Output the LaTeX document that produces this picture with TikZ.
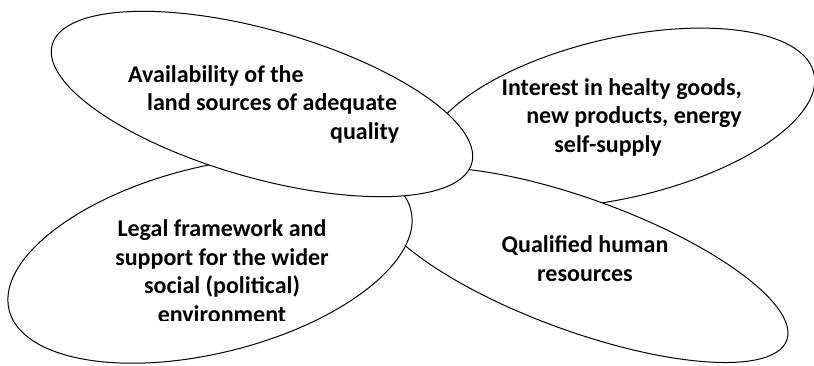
\documentclass[tikz,border=0pt]{standalone}
\usepackage{fontspec}
\setmainfont{Carlito}
\usetikzlibrary{shapes.geometric}

\tikzset{
  petal/.style={ellipse, draw, fill=white, line width=1pt, inner sep=0pt},
  petaltext/.style={font=\fontsize{24}{28.5}\selectfont\bfseries, inner sep=0pt}
}

\begin{document}
\begin{tikzpicture}[x=1pt,y=-1pt]
  \useasboundingbox (0,0) rectangle (814,365);

  \node[petal, minimum width=398pt, minimum height=160pt, rotate=13] (interest) at (620,118) {};
  \node[petal, minimum width=440pt, minimum height=132pt, rotate=-20] (human) at (580,265) {};
  \node[petal, minimum width=414pt, minimum height=186pt, rotate=14] (legal) at (210,260) {};
  \node[petal, minimum width=436pt, minimum height=148pt, rotate=-15.8] (avail) at (262,104) {};

  \node[petaltext, align=left, anchor=base west] (availtext) at (128,139)
    {Availability of the\\\hspace*{19pt}land sources of adequate\\\hspace*{202pt}quality};
  \node[petaltext, align=right, anchor=base east] (interesttext) at (742,152)
    {Interest in healty goods,\\new products, energy\\self-supply\hspace*{80pt}};
  \begin{scope}
    \clip (90,150) rectangle (350,320.5);
    \node[petaltext, align=center, anchor=base] (legaltext) at (222,322)
      {Legal framework and\\support for the wider\\social (political)\\environment};
  \end{scope}
  \node[petaltext, align=center, anchor=base] (humantext) at (585,281)
    {Qualified human\\resources};
\end{tikzpicture}
\end{document}
